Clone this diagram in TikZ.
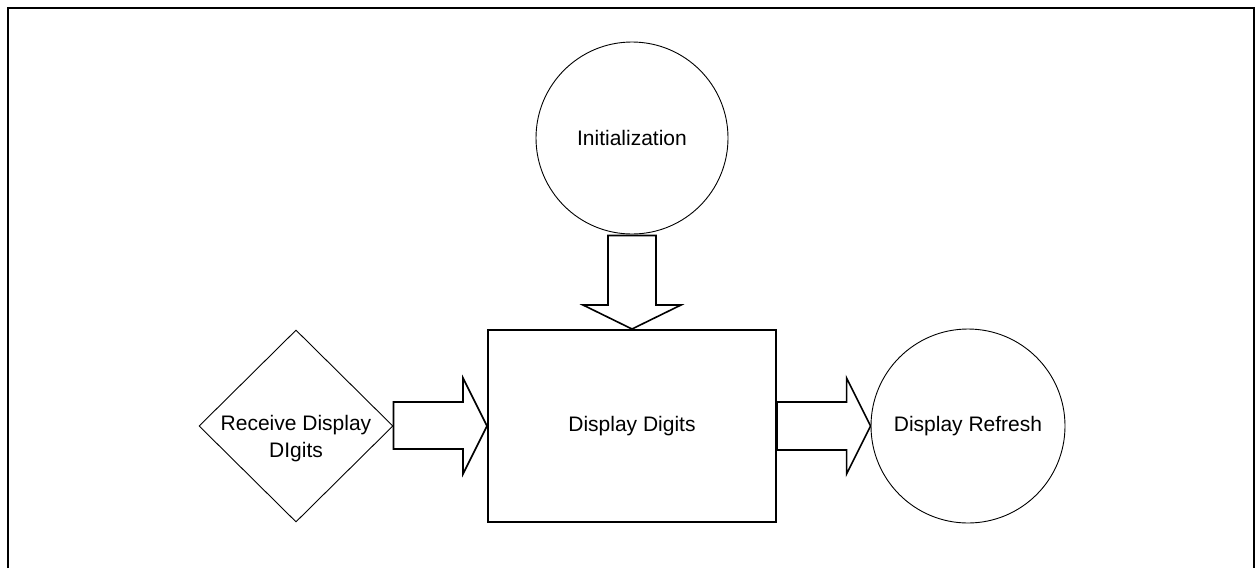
\documentclass[tikz,border=0pt]{standalone}
\usepackage{fontspec}
\setmainfont{Liberation Sans}
\usetikzlibrary{shapes.geometric,calc}

\tikzset{
  thinshape/.style={draw=black, line width=0.9pt, inner sep=0pt},
  bubble/.style={thinshape, circle, minimum size=#1},
  decision/.style={thinshape, diamond, minimum width=194pt, minimum height=192pt},
  process/.style={draw=black, line width=2pt, rectangle, minimum width=288pt, minimum height=192pt, inner sep=0pt},
  fatarrow/.style={draw=black, line width=1.6pt, line join=miter, fill=white},
  frameline/.style={draw=black, line width=2.2pt},
  every node/.style={font=\fontsize{21}{27}\selectfont}
}

\begin{document}
\begin{tikzpicture}[x=1pt, y=-1pt]
  \useasboundingbox (0,0) rectangle (1255,568);

  % open frame (no bottom edge)
  \draw[frameline] (8,568) -- (8,8) -- (1254,8) -- (1254,568);

  % blocks
  \node[bubble=192pt] (init) at (632,138) {Initialization};
  \node[process] (digits) at (632,426) {Display Digits};
  \node[decision] (recv) at (296,426) {};
  \node[align=center] (recvtext) at ($(recv)+(0,13)$) {Receive Display\\DIgits};
  \node[bubble=194pt] (refresh) at (968,426) {Display Refresh};

  % block arrow: Initialization -> Display Digits
  \draw[fatarrow]
    ($(init.south)+(-24,1)$) -- ($(digits.north)+(-24,-24)$)
    -- ($(digits.north)+(-49,-24)$) -- (digits.north)
    -- ($(digits.north)+(49,-24)$) -- ($(digits.north)+(24,-24)$)
    -- ($(init.south)+(24,1)$) -- cycle;

  % block arrow: Receive Display Digits -> Display Digits
  \draw[fatarrow]
    ($(recv.east)+(0,-24)$) -- ($(digits.west)+(-24,-24)$)
    -- ($(digits.west)+(-24,-48)$) -- (digits.west)
    -- ($(digits.west)+(-24,48)$) -- ($(digits.west)+(-24,23)$)
    -- ($(recv.east)+(0,23)$) -- cycle;

  % block arrow: Display Digits -> Display Refresh
  \draw[fatarrow]
    ($(digits.east)+(0,-24)$) -- ($(refresh.west)+(-24,-24)$)
    -- ($(refresh.west)+(-24,-48)$) -- (refresh.west)
    -- ($(refresh.west)+(-24,48)$) -- ($(refresh.west)+(-24,24)$)
    -- ($(digits.east)+(0,24)$) -- cycle;
\end{tikzpicture}
\end{document}
